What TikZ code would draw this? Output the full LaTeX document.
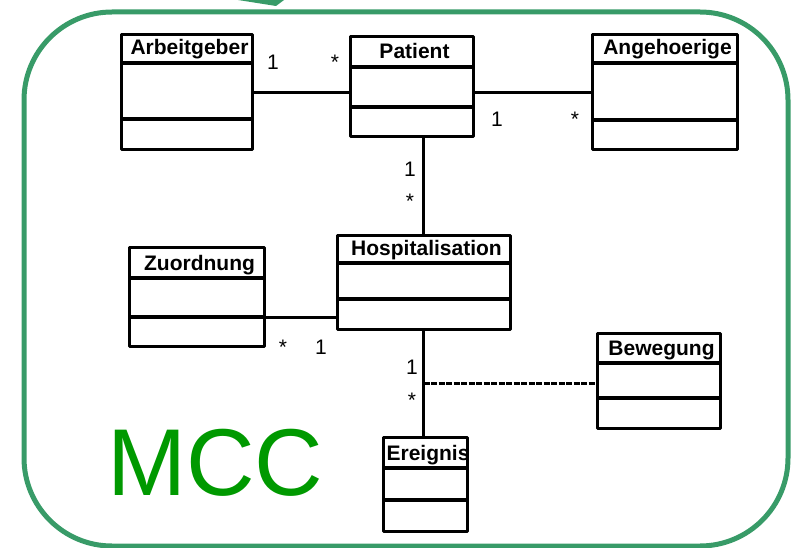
\documentclass[tikz,border=0pt]{standalone}
\usepackage{fontspec}
\setmainfont{Liberation Sans}
\usetikzlibrary{positioning,calc}

\definecolor{framegreen}{RGB}{56,155,104}
\definecolor{mccgreen}{RGB}{0,153,0}

\tikzset{
  classbox/.style={draw, line width=3pt, inner sep=0pt, outer sep=0pt, line join=round},
  classline/.style={line width=3.4pt},
  classtitle/.style={anchor=base, inner sep=0pt, font=\fontsize{21}{21}\selectfont\bfseries},
  mult/.style={anchor=base, inner sep=0pt, font=\fontsize{21}{21}\selectfont},
  assoc/.style={line width=3pt},
  assocdash/.style={line width=3pt, dash pattern=on 6pt off 1.5pt},
  frame/.style={draw=framegreen, line width=5pt, rounded corners=88pt}
}

% name, left, top, right, bottom, first divider, second divider, title
\newcommand{\umlclass}[8]{%
  \node[classbox, minimum width={(#4-#2)*1pt}, minimum height={(#5-#3)*1pt}, anchor=north west] (#1) at (#2,#3) {};
  \draw[classline] (#2,#6) -- (#4,#6);
  \draw[classline] (#2,#7) coordinate (#1-w2) -- (#4,#7) coordinate (#1-e2);
  \node[classtitle] (#1-t) at ({(#2+#4)/2+3},{#6-8}) {#8};
}

\begin{document}
\begin{tikzpicture}[x=1pt, y=-1pt]
    \useasboundingbox (0,0) rectangle (792,548);

    % Frame
    \fill[framegreen] (200,-6) -- (276,6) -- (292,-6) -- cycle;
    \draw[frame] (24,12) rectangle (788,546);
    \node[anchor=base west, inner sep=0pt, text=mccgreen, font=\fontsize{95}{95}\selectfont] (mcc) at (107,495) {MCC};

    % Classes
    \umlclass{arb}{121}{35}{252}{150}{63}{119}{Arbeitgeber}
    \umlclass{pat}{350}{37}{473}{137}{67}{107}{Patient}
    \umlclass{ang}{592}{35}{737}{150}{63}{120}{Angehoerige}
    \umlclass{hosp}{337}{235}{510}{329}{263}{299}{Hospitalisation}
    \umlclass{zuo}{129}{247}{264}{346}{278}{317}{Zuordnung}
    \umlclass{bew}{597}{333}{720}{428}{363}{398}{Bewegung}
    \umlclass{ere}{383}{437}{467}{531}{468}{500}{Ereignis}

    % Associations
    \draw[assoc] (arb.east) -- (arb.east -| pat.west);
    \draw[assoc] (pat.east |- ang.west) -- (ang.west);
    \draw[assoc] (hosp.north |- pat.south) -- (hosp.north);
    \draw[assoc] (zuo-e2) -- (zuo-e2 -| hosp.west);
    \draw[assoc] (hosp.south) -- (hosp.south |- ere.north);
    \coordinate (link) at ($(hosp.south)!0.5!(hosp.south |- ere.north)$);
    \draw[assocdash] (link) -- (link -| bew.west);

    % Multiplicities
    \node[mult] (m-arb) at (273,70) {1};
    \node[mult] (m-pat1) at (335,70) {*};
    \node[mult] (m-pat2) at (497,127) {1};
    \node[mult] (m-ang) at (575,127) {*};
    \node[mult] (m-pat3) at (410,177) {1};
    \node[mult] (m-hosp1) at (410,208) {*};
    \node[mult] (m-zuo) at (283,354) {*};
    \node[mult] (m-hosp2) at (321,354) {1};
    \node[mult] (m-hosp3) at (412,374) {1};
    \node[mult] (m-ere) at (412,407) {*};
\end{tikzpicture}
\end{document}
